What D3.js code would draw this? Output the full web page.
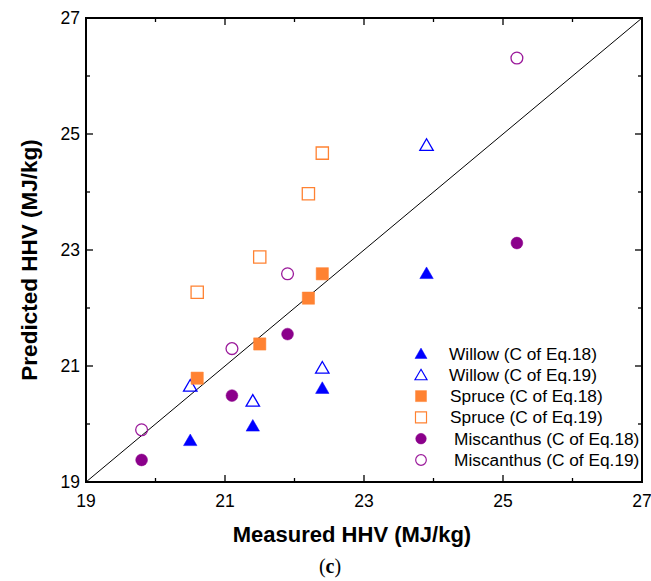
<!DOCTYPE html>
<html><head><meta charset="utf-8">
<script src="https://cdn.jsdelivr.net/npm/d3@7"></script>
<style>body{margin:0;background:#fff}svg{display:block}</style>
</head><body>
<svg id="c" width="651" height="581"></svg>
<script>
const seriesNames = ["Willow (C of Eq.18)","Willow (C of Eq.19)","Spruce (C of Eq.18)","Spruce (C of Eq.19)","Miscanthus (C of Eq.18)","Miscanthus (C of Eq.19)"];
const willow18 = [[20.5,19.72],[21.4,19.97],[22.4,20.62],[23.9,22.6]];
const willow19 = [[20.5,20.66],[21.4,20.4],[22.4,20.97],[23.9,24.81]];
const spruce18 = [[20.6,20.79],[21.5,21.38],[22.2,22.17],[22.4,22.59]];
const spruce19 = [[20.6,22.27],[21.5,22.88],[22.2,23.97],[22.4,24.67]];
const misc18 = [[19.8,19.38],[21.1,20.49],[21.9,21.55],[25.2,23.12]];
const misc19 = [[19.8,19.9],[21.1,21.3],[21.9,22.59],[25.2,26.31]];
const majorTicks = [19,21,23,25,27];
const minorTicks = [20,22,24,26];

const svg = d3.select("#c");
const L=86,R=642,T=18,B=482;
const x = d3.scaleLinear().domain([19,27]).range([L,R]);
const y = d3.scaleLinear().domain([19,27]).range([B,T]);

const blue="#0000ff", orange="#ff8232", purple="#8b008b";
const styles = [
  {shape:"tri",fill:blue,stroke:blue},
  {shape:"tri",fill:"none",stroke:blue},
  {shape:"sq",fill:orange,stroke:orange},
  {shape:"sq",fill:"none",stroke:orange},
  {shape:"circ",fill:purple,stroke:purple},
  {shape:"circ",fill:"none",stroke:"#9b1a9b"}
];
const allData = [willow18,willow19,spruce18,spruce19,misc18,misc19];

function sym(shape){
  if(shape==="tri") return d3.symbol(d3.symbolTriangle,78)();
  if(shape==="sq") return d3.symbol(d3.symbolSquare,150)();
  return d3.symbol(d3.symbolCircle,110)();
}

// diagonal
svg.append("line").attr("x1",x(19)).attr("y1",y(19)).attr("x2",x(27)).attr("y2",y(27))
  .attr("stroke","#000").attr("stroke-width",1);

// axes ticks inward
const g = svg.append("g");
function ticks(vals,len){
  vals.forEach(v=>{
    g.append("line").attr("x1",x(v)).attr("x2",x(v)).attr("y1",B).attr("y2",B-len).attr("stroke","#000").attr("stroke-width",1.3);
    g.append("line").attr("x1",x(v)).attr("x2",x(v)).attr("y1",T).attr("y2",T+len).attr("stroke","#000").attr("stroke-width",1.3);
    g.append("line").attr("y1",y(v)).attr("y2",y(v)).attr("x1",L).attr("x2",L+len).attr("stroke","#000").attr("stroke-width",1.3);
    g.append("line").attr("y1",y(v)).attr("y2",y(v)).attr("x1",R).attr("x2",R-len).attr("stroke","#000").attr("stroke-width",1.3);
  });
}
ticks(majorTicks,7); ticks(minorTicks,4);

// tick labels
majorTicks.forEach(v=>{
  svg.append("text").attr("x",x(v)).attr("y",B+25).attr("text-anchor","middle")
    .attr("font-family","Liberation Sans, Arial, sans-serif").attr("font-size",17.5).text(v);
  svg.append("text").attr("x",L-6).attr("y",y(v)+6).attr("text-anchor","end")
    .attr("font-family","Liberation Sans, Arial, sans-serif").attr("font-size",17.5).text(v);
});

// points
allData.forEach((data,i)=>{
  const s=styles[i];
  svg.selectAll(null).data(data).enter().append("path")
    .attr("d",sym(s.shape))
    .attr("transform",d=>`translate(${x(d[0])},${y(d[1])+(s.shape==="tri"?1.5:0)})`)
    .attr("fill",s.fill).attr("stroke",s.stroke).attr("stroke-width",s.fill==="none"?1.3:0.5);
});

// frame
svg.append("rect").attr("x",L).attr("y",T).attr("width",R-L).attr("height",B-T)
  .attr("fill","none").attr("stroke","#000").attr("stroke-width",2);

// legend
seriesNames.forEach((n,i)=>{
  const yy = 353.5 + i*21.3;
  const s=styles[i];
  svg.append("path").attr("d",sym(s.shape))
    .attr("transform",`translate(421,${yy+(s.shape==="tri"?1.5:0)}) scale(0.9)`)
    .attr("fill",s.fill).attr("stroke",s.stroke).attr("stroke-width",s.fill==="none"?1.3:0.5);
  svg.append("text").attr("x",449 + (i>=4?5:(i>=2?1:0))).attr("y",yy+6)
    .attr("font-family","Liberation Sans, Arial, sans-serif").attr("font-size",17.3).text(n);
});

// axis titles
svg.append("text").attr("x",352).attr("y",542).attr("text-anchor","middle")
  .attr("font-family","Liberation Sans, Arial, sans-serif").attr("font-weight","bold").attr("font-size",22)
  .text("Measured HHV (MJ/kg)");
svg.append("text").attr("transform",`translate(37,260) rotate(-90)`).attr("text-anchor","middle")
  .attr("font-family","Liberation Sans, Arial, sans-serif").attr("font-weight","bold").attr("font-size",22.5)
  .text("Predicted HHV (MJ/kg)");
const c = svg.append("text").attr("x",330).attr("y",573).attr("text-anchor","middle")
  .attr("font-family","Liberation Serif, Times New Roman, serif").attr("font-size",20);
c.append("tspan").text("(");
c.append("tspan").attr("font-weight","bold").text("c");
c.append("tspan").text(")");
</script>
</body></html>
